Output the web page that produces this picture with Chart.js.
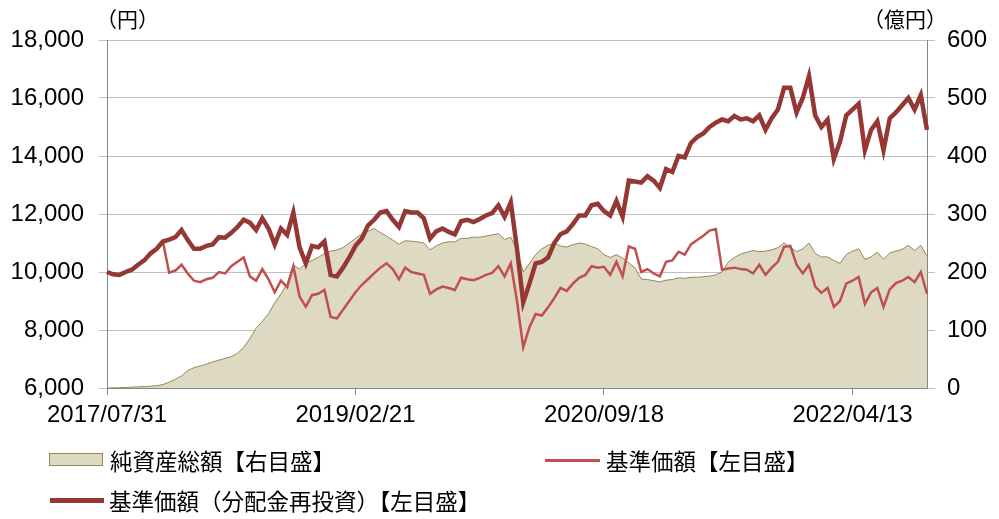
<!DOCTYPE html>
<html lang="ja">
<head>
  <meta charset="UTF-8">
  <title>基準価額・純資産総額の推移</title>
  <script src="https://cdn.jsdelivr.net/npm/chart.js"></script>
  <style>
    body { margin: 0; background: #fff; }
    #wrap {
      position: relative;
      width: 999px;
      height: 519px;
      font-family: "Noto Sans CJK JP", sans-serif;
      color: #000;
    }
    #chart { position: absolute; left: 0; top: 0; }
    .unit { position: absolute; top: 5px; font-size: 21px; line-height: 26px; }
    .lg-text { position: absolute; font-size: 22.5px; line-height: 28px; white-space: nowrap; }
    .lg-sw { position: absolute; }
  </style>
</head>
<body>
  <div id="wrap">
    <canvas id="chart" width="999" height="519"></canvas>
    <div class="unit" style="left:96px">（円）</div>
    <div class="unit" style="left:863px">（億円）</div>

    <div class="lg-sw" style="left:49px;top:453px;width:52px;height:11px;background:#ddd9c3;border:1px solid #948a54"></div>
    <div class="lg-text" style="left:110px;top:446px">純資産総額【右目盛】</div>
    <div class="lg-sw" style="left:545px;top:459px;width:55px;height:3px;background:#c0504d"></div>
    <div class="lg-text" style="left:606px;top:446px">基準価額【左目盛】</div>
    <div class="lg-sw" style="left:50px;top:498px;width:54px;height:5px;background:#953735"></div>
    <div class="lg-text" style="left:109px;top:486px">基準価額（分配金再投資）【左目盛】</div>
  </div>

  <script>
    // x axis: one point about every two weeks, labelled only at these positions
    const tickIndex = [0, 40, 80, 120];
    const tickDates = ['2017/07/31', '2019/02/21', '2020/09/18', '2022/04/13'];

    // 基準価額（分配金再投資） (円)
    const navReinvest = [
      10000, 9920, 9900, 10000, 10080, 10250, 10400, 10640, 10800, 11050,
      11120, 11200, 11450, 11100, 10800, 10800, 10900, 10950, 11200, 11180,
      11350, 11550, 11800, 11700, 11450, 11850, 11500, 10950, 11500, 11280,
      12050, 10850, 10300, 10900, 10850, 11050, 9900, 9850, 10150, 10500,
      10900, 11150, 11600, 11800, 12050, 12100, 11800, 11550, 12100, 12050,
      12050, 11850, 11150, 11400, 11500, 11380, 11300, 11750, 11800, 11720,
      11830, 11950, 12030, 12300, 11900, 12400, 10800, 8950, 9600, 10300,
      10350, 10500, 11000, 11300, 11400, 11650, 11950, 11950, 12300, 12350,
      12100, 11950, 12450, 11900, 13150, 13120, 13080, 13300, 13150, 12900,
      13550, 13450, 14000, 13950, 14450, 14650, 14780, 15000, 15150, 15260,
      15200, 15380, 15260, 15300, 15200, 15400, 14900, 15300, 15600, 16350,
      16350, 15500, 16000, 16750, 15400, 15000, 15250, 13900, 14500, 15400,
      15600, 15800, 14200, 14900, 15200, 14200, 15300, 15500, 15750, 16000,
      15600, 16100, 14900
    ];

    // 基準価額 (円)
    const nav = [
      10000, 9920, 9900, 10000, 10080, 10250, 10400, 10640, 10800, 11050,
      9980, 10050, 10250, 9950, 9700, 9650, 9750, 9800, 10000, 9950,
      10200, 10350, 10500, 9850, 9700, 10100, 9750, 9300, 9700, 9480,
      10200, 9150, 8800, 9200, 9250, 9380, 8450, 8400, 8700, 9000,
      9300, 9550, 9750, 9950, 10150, 10300, 10100, 9750, 10150, 10000,
      9950, 9900, 9250, 9400, 9500, 9450, 9380, 9800, 9750, 9720,
      9800, 9900, 9970, 10200, 9850, 10300, 9000, 7400, 8100, 8550,
      8500, 8780, 9100, 9450, 9350, 9600, 9800, 9900, 10200, 10150,
      10180, 9900, 10350, 9850, 10880, 10800, 10000, 10100, 9950, 9850,
      10350, 10400, 10700, 10600, 10950, 11100, 11250, 11430, 11480, 10080,
      10120, 10150, 10100, 10080, 9950, 10250, 9900, 10150, 10350, 10870,
      10900, 10250, 9950, 10250, 9500, 9280, 9450, 8800, 9000, 9600,
      9700, 9830, 8900, 9300, 9450, 8800, 9400, 9620, 9700, 9830,
      9650, 10000, 9250
    ];

    // 純資産総額 (億円)
    const netAssets = [
      0, 0.3, 0.5, 1, 1.5, 2, 2.5, 3, 4, 6,
      10, 15, 21, 30, 35, 38, 41, 45, 48, 51,
      54, 60, 70, 85, 103, 115, 128, 147, 162, 180,
      212, 205, 215, 220, 225, 232, 236, 238, 242, 250,
      258, 265, 270, 275, 268, 262, 255, 248, 254, 253,
      252, 250, 238, 245, 250, 252, 252, 258, 258, 260,
      260, 262, 264, 266, 256, 260, 238, 200, 215, 230,
      240, 246, 250, 245, 243, 247, 250, 248, 244, 240,
      230, 225, 230, 224, 216, 207, 188, 187, 185, 183,
      186, 187, 190, 189, 191, 191, 192, 193, 195, 200,
      217, 225, 231, 234, 237, 235, 236, 238, 242, 250,
      243, 235, 240, 250, 232, 226, 226, 220, 215, 230,
      236, 240, 222, 226, 234, 222, 233, 236, 239, 246,
      237, 246, 228
    ];

    const labels = navReinvest.map((_, i) => i);
    const axisGray = '#868686';
    const gridGray = '#c0c0c0';
    const tickFont = { family: "'Liberation Sans', Arial, sans-serif", size: 24 };

    new Chart(document.getElementById('chart'), {
      type: 'line',
      data: {
        labels: labels,
        datasets: [
          {
            label: '基準価額（分配金再投資）【左目盛】',
            data: navReinvest,
            yAxisID: 'y',
            borderColor: '#953735',
            borderWidth: 4.5,
            pointRadius: 0,
            tension: 0,
            order: 0
          },
          {
            label: '基準価額【左目盛】',
            data: nav,
            yAxisID: 'y',
            borderColor: '#c0504d',
            borderWidth: 2.5,
            pointRadius: 0,
            tension: 0,
            order: 1
          },
          {
            label: '純資産総額【右目盛】',
            data: netAssets,
            yAxisID: 'y1',
            borderColor: '#948a54',
            backgroundColor: '#ddd9c3',
            borderWidth: 1,
            fill: 'origin',
            pointRadius: 0,
            tension: 0,
            order: 2
          }
        ]
      },
      options: {
        responsive: false,
        devicePixelRatio: 1,
        animation: false,
        layout: { padding: { top: 40, bottom: 86, left: 0, right: 0 } },
        plugins: {
          legend: { display: false },
          tooltip: { enabled: false }
        },
        scales: {
          x: {
            type: 'category',
            offset: false,
            afterFit: s => { s.height = 45; },
            grid: { drawOnChartArea: false, drawTicks: true, tickLength: 7, color: axisGray },
            border: { display: true, color: axisGray, width: 1 },
            ticks: {
              autoSkip: false,
              maxRotation: 0,
              padding: 6,
              color: '#000',
              font: tickFont,
              callback: (value, index) => {
                const k = tickIndex.indexOf(index);
                return k >= 0 ? tickDates[k] : null;
              }
            }
          },
          y: {
            position: 'left',
            min: 6000,
            max: 18000,
            afterFit: s => { s.width = 107; },
            grid: { color: gridGray, lineWidth: 1, tickLength: 8 },
            border: { display: true, color: axisGray, width: 1 },
            ticks: {
              stepSize: 2000,
              padding: 15,
              color: '#000',
              font: tickFont,
              callback: v => v.toLocaleString('en-US')
            }
          },
          y1: {
            position: 'right',
            min: 0,
            max: 600,
            afterFit: s => { s.width = 72; },
            grid: { drawOnChartArea: false, color: gridGray, tickLength: 8 },
            border: { display: true, color: axisGray, width: 1 },
            ticks: {
              stepSize: 100,
              padding: 12,
              color: '#000',
              font: tickFont
            }
          }
        }
      }
    });
  </script>
</body>
</html>
